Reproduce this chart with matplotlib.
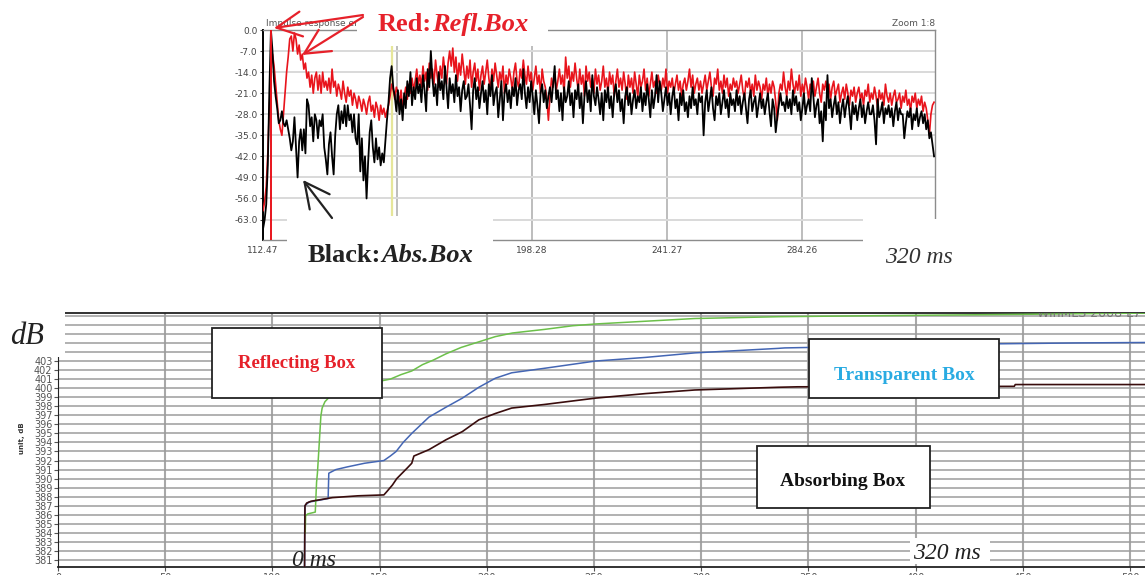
import numpy as np
import matplotlib
matplotlib.use("Agg")
import matplotlib.pyplot as plt
from matplotlib.patches import Rectangle, FancyArrowPatch

W, H = 1145, 575
SERIF = "Liberation Serif"

# ---- top panel: impulse response envelope, dB, one sample every 0.5 ms ----
ENV_T0 = 112.5
ENV_DT = 0.5
RED_DB = [
    -60, -57, -52, -41, -26, -14, -8, -12, -18, -24, -30, -33, -35, -28, -21, -14, -9, -3, -2, -7,
    -1, -3, -8, -5, -10, -8, -13, -11, -16, -14, -19, -15, -21, -16, -14, -20, -15, -21, -14, -19,
    -17, -20, -16, -21, -13, -19, -17, -22, -18, -20, -23, -17, -21, -24, -19, -22, -20, -25, -21, -23,
    -26, -22, -24, -27, -23, -25, -28, -24, -22, -27, -25, -29, -24, -26, -30, -25, -28, -26, -29, -27,
    -25, -22, -18, -20, -23, -19, -21, -24, -20, -26, -22, -19, -23, -18, -21, -16, -20, -17, -13, -18,
    -15, -19, -12, -17, -14, -20, -11, -16, -13, -18, -10, -15, -19, -12, -16, -9, -14, -18, -11, -7,
    -12, -6, -14, -9, -17, -11, -15, -8, -13, -18, -12, -16, -10, -19, -14, -11, -17, -13, -20, -15,
    -12, -18, -14, -10, -16, -20, -13, -17, -11, -15, -19, -14, -17, -12, -21, -15, -18, -13, -16, -20,
    -14, -11, -17, -19, -13, -16, -10, -15, -18, -12, -17, -14, -20, -16, -12, -18, -15, -21, -13, -17,
    -19, -23, -30, -22, -16, -19, -14, -20, -17, -13, -18, -15, -21, -9, -16, -12, -19, -14, -17, -11,
    -16, -20, -13, -18, -15, -22, -12, -17, -14, -19, -16, -21, -13, -18, -15, -20, -17, -12, -19, -16,
    -21, -14, -18, -15, -22, -17, -13, -19, -16, -20, -14, -18, -23, -15, -19, -16, -21, -14, -18, -22,
    -15, -19, -17, -13, -20, -16, -22, -18, -14, -19, -17, -21, -15, -18, -20, -16, -19, -13, -21, -17,
    -19, -16, -21, -18, -15, -20, -17, -22, -18, -16, -20, -17, -13, -19, -15, -21, -18, -16, -20, -17,
    -21, -18, -15, -20, -17, -14, -19, -22, -16, -18, -13, -20, -17, -21, -15, -19, -16, -22, -18, -20,
    -16, -19, -17, -21, -18, -15, -20, -23, -17, -19, -16, -21, -18, -22, -15, -20, -17, -19, -23, -18,
    -20, -16, -22, -18, -21, -17, -19, -24, -30, -21, -18, -20, -14, -19, -22, -17, -20, -13, -18, -21,
    -17, -20, -15, -22, -18, -21, -16, -19, -23, -18, -20, -17, -22, -19, -16, -21, -24, -18, -20, -17,
    -21, -18, -23, -19, -17, -22, -20, -18, -24, -21, -19, -23, -18, -21, -25, -20, -22, -19, -24, -21,
    -19, -23, -21, -25, -20, -22, -18, -24, -21, -23, -19, -22, -26, -20, -23, -21, -25, -18, -22, -24,
    -21, -25, -22, -20, -24, -23, -21, -26, -22, -24, -20, -25, -23, -27, -22, -24, -21, -26, -23, -25,
    -22, -27, -24, -26, -30, -35, -28, -25, -24,
]
BLACK_DB = [
    -66, -63, -58, -45, -20, 0, -7, -17, -22, -26, -31, -30, -27, -31, -32, -30, -33, -36, -40, -37,
    -29, -39, -49, -37, -33, -40, -33, -41, -23, -25, -32, -29, -37, -28, -30, -36, -30, -32, -28, -39,
    -43, -48, -38, -34, -42, -48, -35, -28, -25, -33, -27, -31, -25, -32, -25, -30, -28, -34, -28, -36,
    -38, -28, -47, -36, -50, -42, -56, -44, -34, -30, -39, -44, -36, -43, -39, -45, -41, -44, -37, -30,
    -24, -16, -12, -19, -22, -27, -20, -28, -23, -30, -21, -26, -17, -22, -14, -25, -19, -23, -16, -21,
    -18, -24, -15, -20, -27, -13, -19, -7, -16, -22, -18, -25, -14, -20, -17, -23, -12, -19, -26, -16,
    -21, -18, -24, -15, -22, -19, -27, -20, -17, -23, -22, -18, -25, -33, -20, -16, -23, -19, -26, -21,
    -17, -24, -20, -28, -18, -22, -15, -25, -21, -19, -29, -23, -17, -30, -21, -18, -24, -20, -26, -19,
    -22, -16, -25, -20, -18, -23, -13, -21, -26, -19, -24, -17, -22, -28, -20, -25, -31, -21, -18, -24,
    -20, -26, -22, -19, -24, -18, -12, -23, -20, -27, -21, -30, -19, -24, -22, -17, -25, -21, -29, -20,
    -23, -18, -26, -21, -31, -22, -17, -24, -20, -27, -15, -22, -25, -19, -23, -28, -21, -30, -20, -24,
    -19, -26, -22, -29, -21, -18, -24, -20, -27, -23, -31, -22, -19, -25, -21, -28, -23, -20, -26, -22,
    -24, -19, -27, -21, -25, -18, -23, -29, -20, -26, -22, -15, -24, -17, -21, -27, -23, -19, -25, -21,
    -28, -22, -19, -26, -23, -30, -21, -25, -20, -27, -24, -29, -22, -26, -19, -25, -23, -28, -21, -24,
    -22, -35, -24, -20, -27, -23, -19, -26, -30, -22, -25, -21, -28, -24, -20, -26, -23, -29, -21, -25,
    -23, -27, -20, -25, -22, -28, -24, -21, -26, -31, -23, -20, -27, -24, -22, -29, -25, -21, -26, -23,
    -28, -24, -21, -27, -32, -23, -26, -34, -29, -25, -21, -25, -24, -27, -22, -26, -23, -28, -20, -25,
    -22, -27, -24, -30, -26, -21, -28, -25, -23, -27, -16, -22, -29, -25, -23, -31, -27, -37, -24, -30,
    -15, -26, -23, -29, -25, -22, -28, -24, -31, -26, -23, -29, -25, -22, -27, -33, -24, -28, -25, -30,
    -26, -23, -29, -25, -31, -27, -24, -28, -28, -25, -30, -38, -23, -29, -27, -24, -31, -26, -28, -25,
    -29, -26, -32, -27, -24, -30, -26, -28, -28, -36, -31, -27, -29, -26, -33, -28, -30, -26, -32, -29,
    -27, -31, -28, -33, -30, -36, -34, -38, -42,
]
ENV_XTICKS = [112.47, 155.28, 198.28, 241.27, 284.26]
ENV_YTICKS = [0.0, -7.0, -14.0, -21.0, -28.0, -35.0, -42.0, -49.0, -56.0, -63.0]
MARK_RED = 115.1
MARK_YELLOW = 153.6

# ---- bottom panel: integrated energy curves ----
GREEN_T = [115.3, 115.5, 116.5, 120.0, 120.6, 121.0, 121.8, 122.6, 123.2, 124.5, 126.5, 131.0, 140.0,
           150.7, 155.0, 160.0, 165.0, 170.0, 175.0, 181.0, 188.0, 196.0, 204.0, 212.0, 227.0, 240.0,
           251.0, 274.0, 297.0, 336.0, 376.0, 444.0, 507.0]
GREEN_V = [384.0, 385.9, 386.1, 386.3, 389.6, 390.6, 393.7, 396.9, 397.8, 398.5, 399.0, 399.8, 400.4,
           400.8, 401.0, 401.5, 401.9, 402.6, 403.1, 403.8, 404.5, 405.1, 405.7, 406.1, 406.5, 406.9,
           407.1, 407.4, 407.7, 407.9, 408.0, 408.15, 408.3]
BLUE_T = [115.0, 115.1, 117.0, 126.0, 126.3, 129.6, 135.0, 143.0, 152.0, 155.0, 157.7, 161.0, 165.0,
          169.0, 173.0, 181.0, 188.6, 196.3, 204.0, 211.6, 227.0, 250.7, 274.0, 297.0, 336.0, 339.0,
          437.0, 475.0, 507.0]
BLUE_V = [380.2, 387.0, 387.4, 387.8, 390.6, 391.0, 391.3, 391.7, 392.0, 392.5, 393.0, 394.0, 395.0,
          395.9, 396.8, 397.9, 398.9, 400.1, 401.1, 401.7, 402.2, 403.0, 403.4, 403.9, 404.4, 404.45,
          404.9, 405.0, 405.05]
BROWN_T = [115.0, 115.2, 116.0, 118.0, 128.0, 140.0, 152.0, 153.5, 156.0, 158.0, 160.5, 163.0, 165.0,
           166.0, 173.0, 181.0, 188.6, 196.3, 204.0, 211.6, 227.0, 250.7, 274.0, 297.0, 336.0, 345.0,
           446.0, 446.5, 507.0]
BROWN_V = [380.2, 387.0, 387.3, 387.5, 387.9, 388.1, 388.2, 388.6, 389.3, 390.0, 390.6, 391.2, 391.7,
           392.5, 393.2, 394.3, 395.2, 396.5, 397.2, 397.8, 398.2, 398.9, 399.4, 399.8, 400.1, 400.15,
           400.2, 400.4, 400.4]
SUM_XTICKS = [0, 50, 100, 150, 200, 250, 300, 350, 400, 450, 500]
SUM_YTICKS = list(range(381, 409))


def fx(px):
    return px / W


def fy(py):
    return 1 - py / H


def white_box(x0, y0, x1, y1, edge="none", lw=0, z=5):
    r = Rectangle((fx(x0), fy(y1)), fx(x1) - fx(x0), fy(y0) - fy(y1),
                  transform=fig.transFigure, facecolor="white", edgecolor=edge,
                  linewidth=lw, zorder=z)
    fig.add_artist(r)


def arrow(p0, p1, color):
    a = FancyArrowPatch((fx(p0[0]), fy(p0[1])), (fx(p1[0]), fy(p1[1])),
                        transform=fig.transFigure, arrowstyle="->,head_length=0.9,head_width=0.45",
                        mutation_scale=20, color=color, lw=1.6, shrinkA=0, shrinkB=0, zorder=8)
    fig.add_artist(a)


fig = plt.figure(figsize=(W / 100, H / 100), dpi=100)
fig.patch.set_facecolor("white")

# ================= top panel =================
ax1 = fig.add_axes([fx(263), fy(240), fx(935) - fx(263), fy(30) - fy(240)])
t_red = ENV_T0 + ENV_DT * np.arange(len(RED_DB))
t_blk = ENV_T0 + ENV_DT * np.arange(len(BLACK_DB))
ax1.plot(t_red, RED_DB, color="#e8141c", lw=1.2, zorder=3)
ax1.plot(t_blk, BLACK_DB, color="black", lw=1.3, zorder=4)
ax1.axvline(MARK_RED, color="#e8141c", lw=1.4, zorder=5)
ax1.axvline(MARK_YELLOW, color="#e6e69a", lw=1.6, zorder=2)
ax1.set_xlim(112.47, 326.8)
ax1.set_ylim(-69.8, 0)
ax1.set_xticks(ENV_XTICKS)
ax1.set_xticklabels([f"{v:.2f}" for v in ENV_XTICKS])
ax1.set_yticks(ENV_YTICKS)
ax1.set_yticklabels([f"{v:.1f}" for v in ENV_YTICKS])
ax1.tick_params(axis="both", labelsize=6.5, colors="#444444", length=2, pad=2)
ax1.tick_params(axis="x", length=0, pad=4)
ax1.grid(True, axis="y", color="#d9d9d9", lw=1.4)
ax1.grid(True, axis="x", color="#bdbdbd", lw=1.4)
ax1.set_axisbelow(True)
for s in ["top", "right", "bottom"]:
    ax1.spines[s].set_color("#8c8c8c")
    ax1.spines[s].set_linewidth(1.0)
ax1.spines["left"].set_color("black")
ax1.spines["left"].set_linewidth(1.4)
ax1.text(0.005, 1.01, "Impulse response envelope", transform=ax1.transAxes,
         fontsize=6.5, color="#555555", va="bottom")
ax1.text(1.0, 1.01, "Zoom 1:8", transform=ax1.transAxes, fontsize=6.5,
         color="#555555", va="bottom", ha="right")

# ================= bottom panel =================
ax2 = fig.add_axes([fx(58), fy(567), 1 - fx(58), fy(313) - fy(567)])
ax2.plot(BLUE_T, BLUE_V, color="#4466b4", lw=1.1, zorder=3)
ax2.plot(GREEN_T, GREEN_V, color="#6cc04a", lw=1.1, zorder=3)
ax2.plot(BROWN_T, BROWN_V, color="#3a0d0d", lw=1.2, zorder=4)
ax2.set_xlim(0, 507)
ax2.set_ylim(380.23, 408.31)
ax2.set_xticks(SUM_XTICKS)
ax2.set_xticklabels([str(v) for v in SUM_XTICKS])
ax2.set_yticks(SUM_YTICKS)
ax2.set_yticklabels([str(v) if v <= 403 else "" for v in SUM_YTICKS])
ax2.tick_params(axis="both", labelsize=7, colors="#555555", length=3, pad=1)
ax2.grid(True, axis="y", color="#9c9c9c", lw=1.1)
ax2.grid(True, axis="x", color="#a8a8a8", lw=1.5)
ax2.set_axisbelow(True)
ax2.spines["right"].set_visible(False)
ax2.spines["top"].set_color("#222222")
ax2.spines["top"].set_linewidth(1.3)
ax2.spines["bottom"].set_color("#222222")
ax2.spines["bottom"].set_linewidth(1.3)
ax2.spines["left"].set_color("#222222")
ax2.spines["left"].set_bounds(380.23, 403.6)
ax2.text(505, 407.85, "WinMLS 2008 L7", fontsize=9, color="#777777", ha="right",
         va="baseline", clip_on=True)
fig.text(fx(22), fy(438), "unit, dB", rotation=90, fontsize=5, fontweight="bold",
         color="#333333", ha="center", va="center")

# ================= white covers and labels =================
white_box(357, 0, 548, 46)
white_box(287, 216, 493, 278)
white_box(863, 219, 975, 278)
white_box(0, 290, 65, 357)

red_txt = "#e6212a"
t1 = fig.text(fx(378), fy(31), "Red:", color=red_txt, fontsize=19, fontweight="bold",
              family=SERIF, zorder=7)
t3 = fig.text(fx(308), fy(262), "Black:", color="#222222", fontsize=19, fontweight="bold",
              family=SERIF, zorder=7)
fig.canvas.draw()
r = fig.canvas.get_renderer()
b1 = t1.get_window_extent(r)
b3 = t3.get_window_extent(r)
fig.text(b1.x1 / W, fy(31), "Refl.Box", color=red_txt, fontsize=19, fontweight="bold",
         style="italic", family=SERIF, zorder=7)
fig.text(b3.x1 / W, fy(262), "Abs.Box", color="#222222", fontsize=19, fontweight="bold",
         style="italic", family=SERIF, zorder=7)
fig.text(fx(885), fy(263), "320 ms", fontsize=17, style="italic", family=SERIF,
         color="#333333", zorder=7)

arrow((363, 15), (274, 28), red_txt)
arrow((363, 17), (302, 55), red_txt)
arrow((332, 218), (303, 180), "#222222")

fig.text(fx(10), fy(344), "dB", fontsize=22, style="italic", family=SERIF, color="#222222", zorder=7)
fig.text(fx(292), fy(566), "0 ms", fontsize=17, style="italic", family=SERIF, color="#222222", zorder=7)
white_box(910, 538, 990, 564)
fig.text(fx(913), fy(559), "320 ms", fontsize=17, style="italic", family=SERIF, color="#222222", zorder=7)

# legend boxes
white_box(212, 328, 382, 398, edge="#222222", lw=1.3)
fig.text(fx(297), fy(363), "Reflecting Box", color="#e6212a", fontsize=13.5, fontweight="bold",
         family=SERIF, ha="center", va="center", zorder=7)
white_box(809, 339, 999, 398, edge="#222222", lw=1.3)
fig.text(fx(904), fy(376), "Transparent Box", color="#29abe2", fontsize=14, fontweight="bold",
         family=SERIF, ha="center", va="center", zorder=7)
white_box(757, 446, 930, 508, edge="#222222", lw=1.3)
fig.text(fx(843), fy(481), "Absorbing Box", color="#111111", fontsize=14, fontweight="bold",
         family=SERIF, ha="center", va="center", zorder=7)

fig.savefig("out.png", dpi=100, facecolor="white")
